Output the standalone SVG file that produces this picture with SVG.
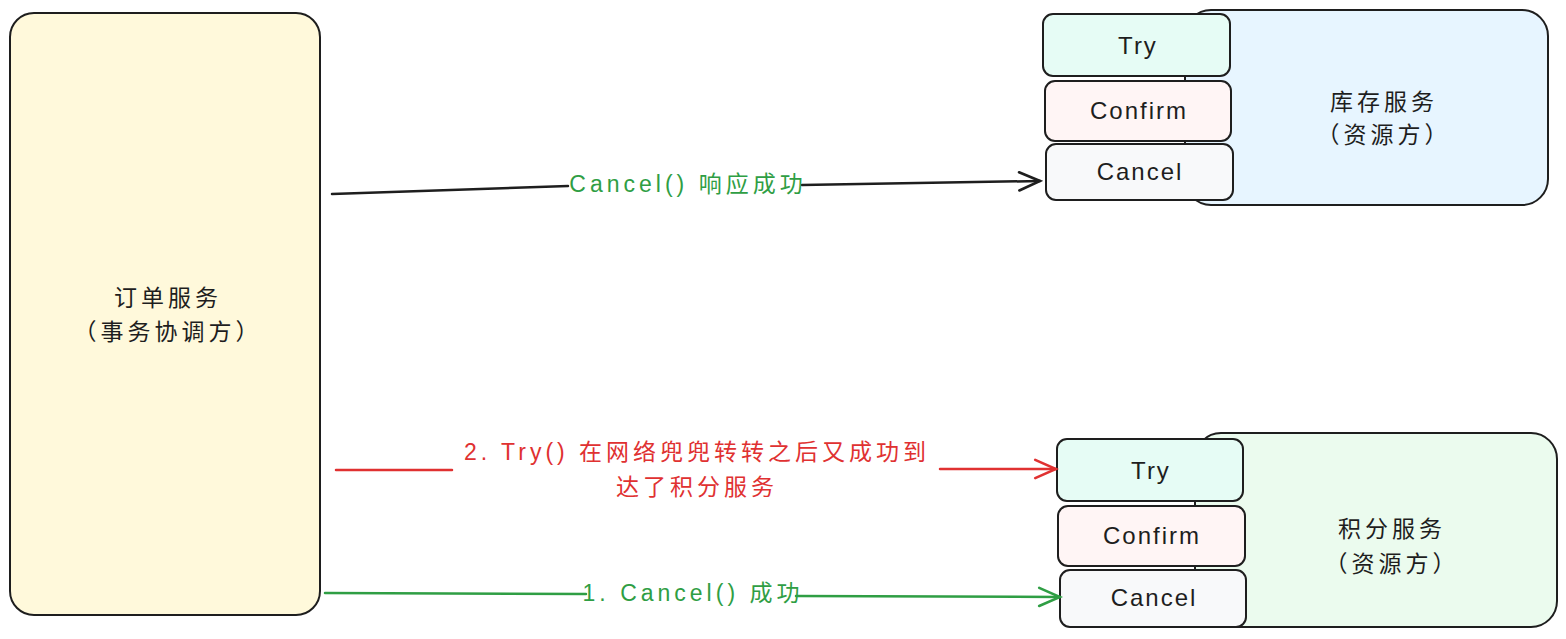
<svg xmlns="http://www.w3.org/2000/svg" width="1566" height="639" viewBox="0 0 1566 639">
<defs>
<style>
.box{stroke:#1e1e1e;stroke-width:2}
.t{font-family:"Liberation Sans","Noto Sans CJK SC",sans-serif;font-size:24px;fill:#1e1e1e;text-anchor:middle;dominant-baseline:central;letter-spacing:2px}
.cj{font-family:"Noto Sans CJK SC",sans-serif;font-size:23px;fill:#1e1e1e;text-anchor:middle;dominant-baseline:central;letter-spacing:4px}
.lbl{font-family:"Liberation Sans","Noto Sans CJK SC",sans-serif;font-size:23px;text-anchor:middle;dominant-baseline:central;letter-spacing:4px}
.ln{fill:none;stroke-width:2.5;stroke-linecap:round}
</style>
<marker id="ab" viewBox="0 0 20 20" refX="18" refY="10" markerWidth="26" markerHeight="26" markerUnits="userSpaceOnUse" orient="auto"><path d="M2,3 L18,10 L2,17" fill="none" stroke="#1e1e1e" stroke-width="2" stroke-linecap="round"/></marker>
<marker id="ar" viewBox="0 0 20 20" refX="18" refY="10" markerWidth="26" markerHeight="26" markerUnits="userSpaceOnUse" orient="auto"><path d="M2,3 L18,10 L2,17" fill="none" stroke="#e03131" stroke-width="2" stroke-linecap="round"/></marker>
<marker id="ag" viewBox="0 0 20 20" refX="18" refY="10" markerWidth="26" markerHeight="26" markerUnits="userSpaceOnUse" orient="auto"><path d="M2,3 L18,10 L2,17" fill="none" stroke="#2f9e44" stroke-width="2" stroke-linecap="round"/></marker>
</defs>
<rect width="1566" height="639" fill="#ffffff"/>

<g id="order">
<rect class="box" x="10" y="13" width="310" height="602" rx="24" fill="#fff9db"/>
<text class="cj" x="168" y="296">订单服务</text>
<text class="cj" x="168" y="330">（事务协调方）</text>
</g>

<g id="inventory">
<rect class="box" x="1185" y="10" width="363" height="195" rx="26" fill="#e7f5ff"/>
<text class="cj" x="1384" y="100">库存服务</text>
<text class="cj" x="1384" y="133">（资源方）</text>
</g>
<g id="inv-try">
<rect class="box" x="1043" y="14" width="187" height="62" rx="10" fill="#e6fcf5"/>
<text class="t" x="1138" y="45">Try</text>
</g>
<g id="inv-confirm">
<rect class="box" x="1045" y="81" width="186" height="60" rx="10" fill="#fff5f5"/>
<text class="t" x="1139" y="110">Confirm</text>
</g>
<g id="inv-cancel">
<rect class="box" x="1046" y="144" width="187" height="56" rx="10" fill="#f8f9fa"/>
<text class="t" x="1140" y="171">Cancel</text>
</g>

<g id="points">
<rect class="box" x="1195" y="433" width="362" height="194" rx="26" fill="#ebfbee"/>
<text class="cj" x="1392" y="527">积分服务</text>
<text class="cj" x="1392" y="562">（资源方）</text>
</g>
<g id="pts-try">
<rect class="box" x="1057" y="439" width="186" height="62" rx="10" fill="#e6fcf5"/>
<text class="t" x="1151" y="470">Try</text>
</g>
<g id="pts-confirm">
<rect class="box" x="1058" y="506" width="187" height="60" rx="10" fill="#fff5f5"/>
<text class="t" x="1152" y="535">Confirm</text>
</g>
<g id="pts-cancel">
<rect class="box" x="1060" y="570" width="186" height="57" rx="10" fill="#f8f9fa"/>
<text class="t" x="1154" y="597">Cancel</text>
</g>

<g id="connectors">
<path class="ln" stroke="#1e1e1e" d="M332,194 L568,186"/>
<path class="ln" stroke="#1e1e1e" d="M802,185 L1040,181" marker-end="url(#ab)"/>
<text class="lbl" x="688" y="184" fill="#2f9e44">Cancel() 响应成功</text>

<path class="ln" stroke="#e03131" d="M336,470 L452,470"/>
<path class="ln" stroke="#e03131" d="M940,469 L1056,469" marker-end="url(#ar)"/>
<text class="lbl" x="697" y="452" fill="#e03131">2. Try() 在网络兜兜转转之后又成功到</text>
<text class="lbl" x="697" y="487" fill="#e03131">达了积分服务</text>

<path class="ln" stroke="#2f9e44" d="M325,593 L586,594"/>
<path class="ln" stroke="#2f9e44" d="M796,596 L1060,597" marker-end="url(#ag)"/>
<text class="lbl" x="693" y="593" fill="#2f9e44">1. Cancel() 成功</text>
</g>
</svg>
